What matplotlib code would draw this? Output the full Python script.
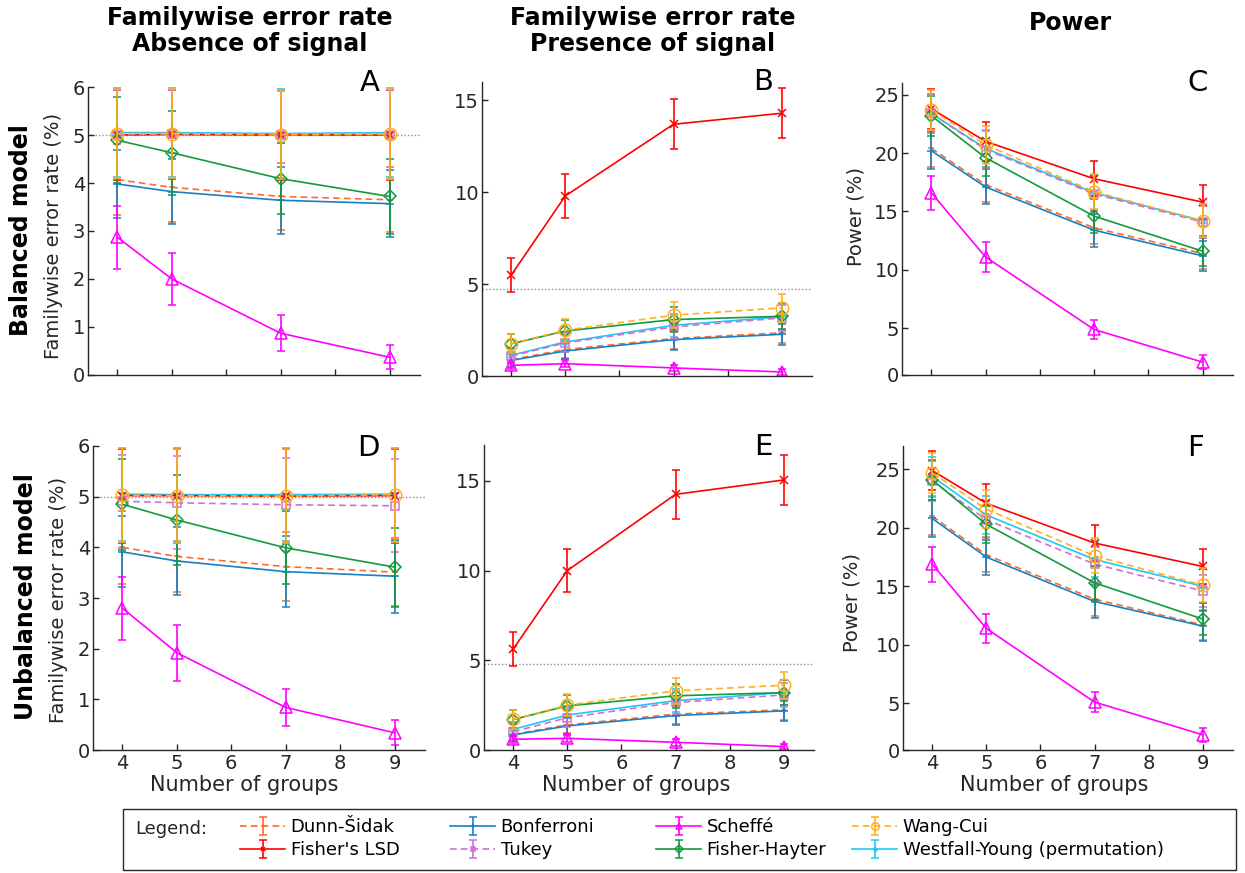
import matplotlib
matplotlib.use('Agg')
import matplotlib.pyplot as plt
from matplotlib.patches import Rectangle

# ---------------- data ----------------
groups = [4, 5, 7, 9]
methods = ['Dunn-Šidak', "Fisher's LSD", 'Bonferroni', 'Tukey',
           'Scheffé', 'Fisher-Hayter', 'Wang-Cui', 'Westfall-Young (permutation)']

A_mean = {'Dunn-Šidak': [4.07, 3.91, 3.72, 3.65], "Fisher's LSD": [5.00, 5.01, 5.00, 5.00],
          'Bonferroni': [3.98, 3.82, 3.64, 3.57], 'Tukey': [5.01, 5.02, 5.00, 5.01],
          'Scheffé': [2.87, 2.00, 0.87, 0.37], 'Fisher-Hayter': [4.89, 4.63, 4.09, 3.72],
          'Wang-Cui': [5.03, 5.03, 5.01, 5.02], 'Westfall-Young (permutation)': [5.05, 5.05, 5.03, 5.05]}
A_err = {'Dunn-Šidak': [0.74, 0.72, 0.70, 0.68], "Fisher's LSD": [0.93, 0.93, 0.93, 0.93],
         'Bonferroni': [0.70, 0.68, 0.70, 0.70], 'Tukey': [0.92, 0.92, 0.92, 0.92],
         'Scheffé': [0.66, 0.55, 0.37, 0.25], 'Fisher-Hayter': [0.90, 0.88, 0.74, 0.78],
         'Wang-Cui': [0.93, 0.93, 0.93, 0.93], 'Westfall-Young (permutation)': [0.92, 0.92, 0.92, 0.92]}

B_mean = {'Dunn-Šidak': [0.89, 1.44, 2.04, 2.35], "Fisher's LSD": [5.49, 9.80, 13.70, 14.30],
          'Bonferroni': [0.85, 1.36, 1.98, 2.27], 'Tukey': [1.08, 1.80, 2.67, 3.16],
          'Scheffé': [0.58, 0.67, 0.44, 0.22], 'Fisher-Hayter': [1.75, 2.45, 3.07, 3.25],
          'Wang-Cui': [1.76, 2.49, 3.31, 3.71], 'Westfall-Young (permutation)': [1.13, 1.85, 2.76, 3.22]}
B_err = {'Dunn-Šidak': [0.38, 0.46, 0.55, 0.58], "Fisher's LSD": [0.91, 1.18, 1.35, 1.37],
         'Bonferroni': [0.37, 0.45, 0.54, 0.57], 'Tukey': [0.42, 0.52, 0.64, 0.69],
         'Scheffé': [0.20, 0.20, 0.18, 0.14], 'Fisher-Hayter': [0.52, 0.61, 0.68, 0.70],
         'Wang-Cui': [0.53, 0.62, 0.71, 0.75], 'Westfall-Young (permutation)': [0.42, 0.53, 0.64, 0.70]}

C_mean = {'Dunn-Šidak': [20.4, 17.3, 13.6, 11.4], "Fisher's LSD": [23.8, 21.0, 17.8, 15.8],
          'Bonferroni': [20.2, 17.1, 13.4, 11.2], 'Tukey': [23.4, 20.3, 16.5, 14.1],
          'Scheffé': [16.6, 11.1, 4.9, 2.1], 'Fisher-Hayter': [23.2, 19.6, 14.6, 11.6],
          'Wang-Cui': [23.7, 20.7, 16.7, 14.2], 'Westfall-Young (permutation)': [23.4, 20.4, 16.6, 14.2]}
C_err = {'Dunn-Šidak': [1.6, 1.5, 1.4, 1.3], "Fisher's LSD": [1.7, 1.65, 1.5, 1.45],
         'Bonferroni': [1.6, 1.5, 1.4, 1.3], 'Tukey': [1.7, 1.6, 1.5, 1.4],
         'Scheffé': [1.45, 1.25, 0.85, 0.6], 'Fisher-Hayter': [1.7, 1.6, 1.45, 1.3],
         'Wang-Cui': [1.7, 1.6, 1.5, 1.4], 'Westfall-Young (permutation)': [1.7, 1.6, 1.5, 1.4]}

D_mean = {'Dunn-Šidak': [4.00, 3.82, 3.62, 3.51], "Fisher's LSD": [5.02, 5.02, 5.01, 5.02],
          'Bonferroni': [3.91, 3.73, 3.52, 3.43], 'Tukey': [4.91, 4.88, 4.84, 4.82],
          'Scheffé': [2.80, 1.92, 0.84, 0.34], 'Fisher-Hayter': [4.85, 4.54, 3.99, 3.61],
          'Wang-Cui': [5.03, 5.02, 5.01, 5.04], 'Westfall-Young (permutation)': [5.05, 5.04, 5.04, 5.05]}
D_err = {'Dunn-Šidak': [0.72, 0.70, 0.68, 0.67], "Fisher's LSD": [0.93, 0.93, 0.93, 0.93],
         'Bonferroni': [0.70, 0.68, 0.70, 0.72], 'Tukey': [0.92, 0.92, 0.92, 0.92],
         'Scheffé': [0.62, 0.55, 0.36, 0.25], 'Fisher-Hayter': [0.90, 0.88, 0.72, 0.78],
         'Wang-Cui': [0.93, 0.93, 0.93, 0.93], 'Westfall-Young (permutation)': [0.92, 0.92, 0.92, 0.92]}

E_mean = {'Dunn-Šidak': [0.87, 1.40, 2.00, 2.24], "Fisher's LSD": [5.63, 10.00, 14.25, 15.05],
          'Bonferroni': [0.84, 1.34, 1.92, 2.18], 'Tukey': [1.02, 1.80, 2.65, 3.07],
          'Scheffé': [0.60, 0.65, 0.43, 0.19], 'Fisher-Hayter': [1.70, 2.46, 3.02, 3.20],
          'Wang-Cui': [1.71, 2.50, 3.30, 3.61], 'Westfall-Young (permutation)': [1.15, 1.95, 2.75, 3.20]}
E_err = {'Dunn-Šidak': [0.37, 0.46, 0.54, 0.56], "Fisher's LSD": [0.93, 1.20, 1.38, 1.40],
         'Bonferroni': [0.36, 0.45, 0.53, 0.55], 'Tukey': [0.41, 0.52, 0.63, 0.68],
         'Scheffé': [0.20, 0.20, 0.18, 0.14], 'Fisher-Hayter': [0.52, 0.61, 0.68, 0.70],
         'Wang-Cui': [0.53, 0.62, 0.71, 0.75], 'Westfall-Young (permutation)': [0.42, 0.53, 0.64, 0.70]}

F_mean = {'Dunn-Šidak': [21.0, 17.7, 13.9, 11.7], "Fisher's LSD": [24.9, 22.1, 18.7, 16.7],
          'Bonferroni': [20.8, 17.5, 13.7, 11.6], 'Tukey': [24.0, 20.7, 16.9, 14.6],
          'Scheffé': [16.9, 11.4, 5.1, 2.3], 'Fisher-Hayter': [24.1, 20.3, 15.3, 12.2],
          'Wang-Cui': [24.7, 21.6, 17.6, 15.1], 'Westfall-Young (permutation)': [24.4, 21.1, 17.3, 15.0]}
F_err = {'Dunn-Šidak': [1.6, 1.5, 1.4, 1.3], "Fisher's LSD": [1.7, 1.65, 1.55, 1.5],
         'Bonferroni': [1.6, 1.5, 1.4, 1.3], 'Tukey': [1.7, 1.6, 1.5, 1.4],
         'Scheffé': [1.5, 1.25, 0.85, 0.6], 'Fisher-Hayter': [1.7, 1.6, 1.45, 1.35],
         'Wang-Cui': [1.7, 1.6, 1.5, 1.45], 'Westfall-Young (permutation)': [1.7, 1.6, 1.5, 1.45]}

ref_levels = {'A': 5.0, 'B': 4.75, 'D': 5.0, 'E': 4.8}
col_titles = ['Familywise error rate\nAbsence of signal',
              'Familywise error rate\nPresence of signal', 'Power']
row_titles = ['Balanced model', 'Unbalanced model']
xticks = [4, 5, 6, 7, 8, 9]
fwer_ticks = [0, 1, 2, 3, 4, 5, 6]
fwer2_ticks = [0, 5, 10, 15]
power_ticks = [1, 5, 10, 15, 20, 25]
power_ticklabels = ['0', '5', '10', '15', '20', '25']

# ---------------- style ----------------
colors = {'Dunn-Šidak': '#FF6A2A', "Fisher's LSD": '#FF0000', 'Bonferroni': '#1681C4',
          'Tukey': '#D070D0', 'Scheffé': '#FF00FF', 'Fisher-Hayter': '#119B3C',
          'Wang-Cui': '#FFB01E', 'Westfall-Young (permutation)': '#1EC8F5'}
lstyles = {'Dunn-Šidak': (0, (4, 2.5)), "Fisher's LSD": '-', 'Bonferroni': '-',
           'Tukey': (0, (4, 2.5)), 'Scheffé': '-', 'Fisher-Hayter': '-',
           'Wang-Cui': (0, (4, 2.5)), 'Westfall-Young (permutation)': '-'}
markers = {'Dunn-Šidak': '+', "Fisher's LSD": 'x', 'Bonferroni': '+', 'Tukey': 's',
           'Scheffé': '^', 'Fisher-Hayter': 'D', 'Wang-Cui': 'o',
           'Westfall-Young (permutation)': '*'}
msizes = {'Dunn-Šidak': 5, "Fisher's LSD": 6, 'Bonferroni': 6, 'Tukey': 6,
          'Scheffé': 8, 'Fisher-Hayter': 6.5, 'Wang-Cui': 9,
          'Westfall-Young (permutation)': 5}
zorders = {'Dunn-Šidak': 2, "Fisher's LSD": 2.2, 'Bonferroni': 2.1, 'Tukey': 2.3,
           'Scheffé': 2.4, 'Fisher-Hayter': 2.5, 'Wang-Cui': 2.7,
           'Westfall-Young (permutation)': 2.05}

W, H = 1245, 873
fig = plt.figure(figsize=(W / 100, H / 100), dpi=100)
TXT = '#262626'


def px_axes(l, t, r, b):
    return [l / W, 1 - b / H, (r - l) / W, (b - t) / H]


def ftext(x, y, s, **kw):
    return fig.text(x / W, 1 - y / H, s, **kw)


panels = [
    ('A', A_mean, A_err, (88, 87, 420, 375), (0, 6), fwer_ticks, None, False),
    ('B', B_mean, B_err, (482, 82, 812, 376), (0, 16), fwer2_ticks, None, False),
    ('C', C_mean, C_err, (902, 83, 1233, 375), (1, 26), power_ticks, power_ticklabels, False),
    ('D', D_mean, D_err, (93, 446, 425, 750), (0, 6), fwer_ticks, None, True),
    ('E', E_mean, E_err, (484, 445, 814, 750), (0, 17), fwer2_ticks, None, True),
    ('F', F_mean, F_err, (903, 446, 1233, 750), (1, 27), power_ticks, power_ticklabels, True),
]

legend_handles = {}
for letter, means, errs, box, ylim, yt, ytl, bottom in panels:
    ax = fig.add_axes(px_axes(*box))
    if letter in ref_levels:
        ax.axhline(ref_levels[letter], color='#909090', lw=1.0, ls=(0, (1, 1.5)), zorder=1)
    for m in methods:
        c = ax.errorbar(groups, means[m], yerr=errs[m], color=colors[m], ls=lstyles[m],
                        marker=markers[m], ms=msizes[m], mfc='none', mec=colors[m],
                        mew=1.1, lw=1.2, elinewidth=1.2, capsize=3, capthick=1.1,
                        zorder=zorders[m])
        if letter == 'A':
            legend_handles[m] = c
    ax.set_xlim(3.46, 9.56)
    ax.set_ylim(*ylim)
    ax.set_xticks(xticks)
    ax.set_yticks(yt)
    if ytl is not None:
        ax.set_yticklabels(ytl)
    for s in ['top', 'right']:
        ax.spines[s].set_visible(False)
    for s in ['left', 'bottom']:
        ax.spines[s].set_color(TXT)
        ax.spines[s].set_linewidth(1.0)
    ax.tick_params(direction='in', length=4, width=1, colors=TXT, labelsize=14,
                   labelcolor=TXT, pad=3)
    ax.tick_params(axis='y', pad=2)
    if not bottom:
        ax.tick_params(axis='x', labelbottom=False)

# panel letters
for s, (x, y) in zip('ABCDEF', [(370, 83), (763, 82), (1198, 83), (368, 448), (763, 447), (1195, 448)]):
    ftext(x, y, s, fontsize=21, ha='center', va='center', color='black')

# column titles
for s, x in zip(col_titles, [250, 653, 1070]):
    ftext(x, 31 if '\n' in s else 23, s, fontsize=17, fontweight='bold', ha='center',
          va='center', linespacing=1.15)

# row titles
ftext(21, 230, row_titles[0], fontsize=17, fontweight='bold', rotation=90, ha='center', va='center')
ftext(26, 597, row_titles[1], fontsize=17, fontweight='bold', rotation=90, ha='center', va='center')

# y labels
for x, y, s in [(54, 236, 'Familywise error rate (%)'), (58, 600, 'Familywise error rate (%)'),
                (856, 216, 'Power (%)'), (852, 603, 'Power (%)')]:
    ftext(x, y, s, fontsize=14, rotation=90, ha='center', va='center', color=TXT)

# x labels
for x in [244, 636, 1054]:
    ftext(x, 785, 'Number of groups', fontsize=15, ha='center', va='center', color=TXT)

# legend frame
fig.patches.append(Rectangle((123 / W, 1 - 870 / H), (1236 - 123) / W, (870 - 809) / H,
                             transform=fig.transFigure, fill=False, edgecolor=TXT, lw=1.0))
ftext(135, 829, 'Legend:', fontsize=13, ha='left', va='center', color=TXT)

col_x = [240, 450, 656, 852]
for i, x in enumerate(col_x):
    ms = methods[2 * i:2 * i + 2]
    fig.legend([legend_handles[m] for m in ms], ms, loc='upper left',
               bbox_to_anchor=(x / W, 1 - 818 / H), frameon=False, fontsize=13,
               borderpad=0, borderaxespad=0, handlelength=2.5, handletextpad=0.3,
               labelspacing=0.3, markerscale=0.6)

fig.savefig('out.png', dpi=100)
